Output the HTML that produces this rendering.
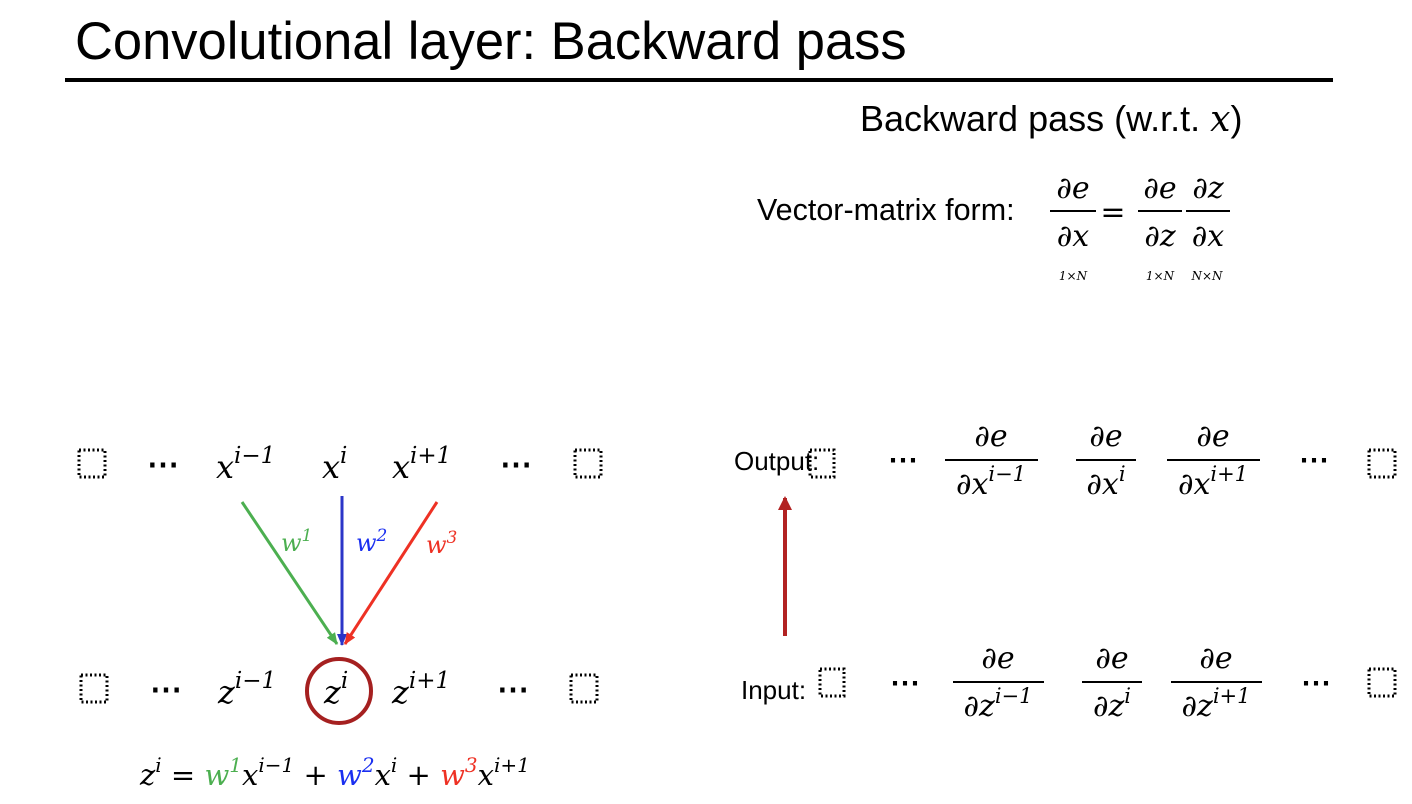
<!DOCTYPE html>
<html><head><meta charset="utf-8"><style>
body{margin:0;background:#fff;width:1412px;height:804px;overflow:hidden}
svg{display:block}
.s{font-family:"Liberation Sans",sans-serif}
.m{font-family:"DejaVu Serif","Liberation Serif",serif;font-style:italic}
.r{font-family:"DejaVu Serif","Liberation Serif",serif;font-style:normal}
</style></head><body>
<svg width="1412" height="804">
<defs>
<marker id="ag" markerUnits="userSpaceOnUse" markerWidth="12" markerHeight="10" refX="11" refY="5" orient="auto"><path d="M0,0L12,5L0,10z" fill="#4caf50"/></marker>
<marker id="ab" markerUnits="userSpaceOnUse" markerWidth="12" markerHeight="10" refX="11" refY="5" orient="auto"><path d="M0,0L12,5L0,10z" fill="#2b35c8"/></marker>
<marker id="ar" markerUnits="userSpaceOnUse" markerWidth="12" markerHeight="10" refX="11" refY="5" orient="auto"><path d="M0,0L12,5L0,10z" fill="#ee3124"/></marker>
<marker id="ad" markerUnits="userSpaceOnUse" markerWidth="14" markerHeight="14" refX="12" refY="7" orient="auto"><path d="M0,0L14,7L0,14z" fill="#b22222"/></marker>
</defs>
<text class="s" x="75" y="59" font-size="52.5">Convolutional layer: Backward pass</text>
<rect x="65" y="78" width="1268" height="4" fill="#000"/>
<text class="s" x="860" y="131" font-size="36">Backward pass (w.r.t. <tspan class="m">x</tspan>)</text>
<text class="s" x="757" y="220" font-size="30.5">Vector-matrix form:</text>
<g class="m" font-size="30" text-anchor="middle">
<text x="1073" y="198">∂e</text><rect x="1050" y="210" width="46" height="2"/><text x="1073" y="246">∂x</text>
<text class="r" x="1113" y="222">=</text>
<text x="1160" y="198">∂e</text><rect x="1138" y="210" width="44" height="2"/><text x="1160" y="246">∂z</text>
<text x="1208" y="198">∂z</text><rect x="1186" y="210" width="44" height="2"/><text x="1208" y="246">∂x</text>
<text x="1073" y="280" font-size="12">1×N</text><text x="1160" y="280" font-size="12">1×N</text><text x="1207" y="280" font-size="12">N×N</text>
</g>
<g fill="none" stroke="#000" stroke-width="3" stroke-dasharray="2,2.5">
<rect x="79" y="450" width="26" height="27"/><rect x="575" y="450" width="26" height="27"/>
<rect x="81" y="675" width="26" height="27"/><rect x="571" y="675" width="26" height="27"/>
<rect x="810" y="450" width="24" height="27"/><rect x="1369" y="450" width="26" height="27"/>
<rect x="820" y="669" width="24" height="27"/><rect x="1369" y="669" width="26" height="27"/>
</g>
<g class="m" font-size="32">
<text class="r" x="147" y="475" font-weight="bold">⋯</text>
<text x="216" y="478">x<tspan font-size="23" dy="-15">i−1</tspan></text>
<text x="322" y="478">x<tspan font-size="23" dy="-15">i</tspan></text>
<text x="392" y="478">x<tspan font-size="23" dy="-15">i+1</tspan></text>
<text class="r" x="500" y="475" font-weight="bold">⋯</text>
</g>
<line x1="242" y1="502" x2="337" y2="644" stroke="#4caf50" stroke-width="3" marker-end="url(#ag)"/>
<line x1="342" y1="496" x2="342" y2="645" stroke="#2b35c8" stroke-width="3" marker-end="url(#ab)"/>
<line x1="437" y1="502" x2="345" y2="644" stroke="#ee3124" stroke-width="3" marker-end="url(#ar)"/>
<g class="m" font-size="24">
<text x="281" y="551" fill="#4caf50">w<tspan font-size="17" dy="-10">1</tspan></text>
<text x="356" y="551" fill="#1a2ff0">w<tspan font-size="17" dy="-10">2</tspan></text>
<text x="426" y="553" fill="#ee3124">w<tspan font-size="17" dy="-10">3</tspan></text>
</g>
<g class="m" font-size="32">
<text class="r" x="150" y="700" font-weight="bold">⋯</text>
<text x="218" y="703">z<tspan font-size="23" dy="-15">i−1</tspan></text>
<text x="324" y="703">z<tspan font-size="23" dy="-15">i</tspan></text>
<text x="392" y="703">z<tspan font-size="23" dy="-15">i+1</tspan></text>
<text class="r" x="497" y="700" font-weight="bold">⋯</text>
</g>
<circle cx="339" cy="691" r="32" fill="none" stroke="#a52020" stroke-width="4"/>
<text class="m" x="140" y="785" font-size="29">z<tspan font-size="20" dy="-13">i</tspan><tspan dy="13" class="r"> = </tspan><tspan fill="#4caf50">w<tspan font-size="20" dy="-13">1</tspan></tspan><tspan dy="13">x</tspan><tspan font-size="20" dy="-13">i−1</tspan><tspan dy="13" class="r"> + </tspan><tspan fill="#1a2ff0">w<tspan font-size="20" dy="-13">2</tspan></tspan><tspan dy="13">x</tspan><tspan font-size="20" dy="-13">i</tspan><tspan dy="13" class="r"> + </tspan><tspan fill="#ee3124">w<tspan font-size="20" dy="-13">3</tspan></tspan><tspan dy="13">x</tspan><tspan font-size="20" dy="-13">i+1</tspan></text>
<text class="s" x="734" y="470" font-size="26">Output:</text>
<text class="s" x="741" y="699" font-size="26">Input:</text>
<line x1="785" y1="636" x2="785" y2="498" stroke="#b22222" stroke-width="4" marker-end="url(#ad)"/>
<g class="m" font-size="30" text-anchor="middle">
<text class="r" x="903" y="470" font-weight="bold">⋯</text>
<text x="991" y="446">∂e</text><rect x="945" y="459" width="93" height="2"/><text x="991" y="494">∂x<tspan font-size="21" dy="-13">i−1</tspan></text>
<text x="1106" y="446">∂e</text><rect x="1076" y="459" width="60" height="2"/><text x="1106" y="494">∂x<tspan font-size="21" dy="-13">i</tspan></text>
<text x="1213" y="446">∂e</text><rect x="1167" y="459" width="93" height="2"/><text x="1213" y="494">∂x<tspan font-size="21" dy="-13">i+1</tspan></text>
<text class="r" x="1314" y="470" font-weight="bold">⋯</text>
</g>
<g class="m" font-size="30" text-anchor="middle">
<text class="r" x="905" y="693" font-weight="bold">⋯</text>
<text x="998" y="668">∂e</text><rect x="953" y="681" width="91" height="2"/><text x="998" y="716">∂z<tspan font-size="21" dy="-13">i−1</tspan></text>
<text x="1112" y="668">∂e</text><rect x="1082" y="681" width="60" height="2"/><text x="1112" y="716">∂z<tspan font-size="21" dy="-13">i</tspan></text>
<text x="1216" y="668">∂e</text><rect x="1171" y="681" width="91" height="2"/><text x="1216" y="716">∂z<tspan font-size="21" dy="-13">i+1</tspan></text>
<text class="r" x="1316" y="693" font-weight="bold">⋯</text>
</g>
</svg>
</body></html>
